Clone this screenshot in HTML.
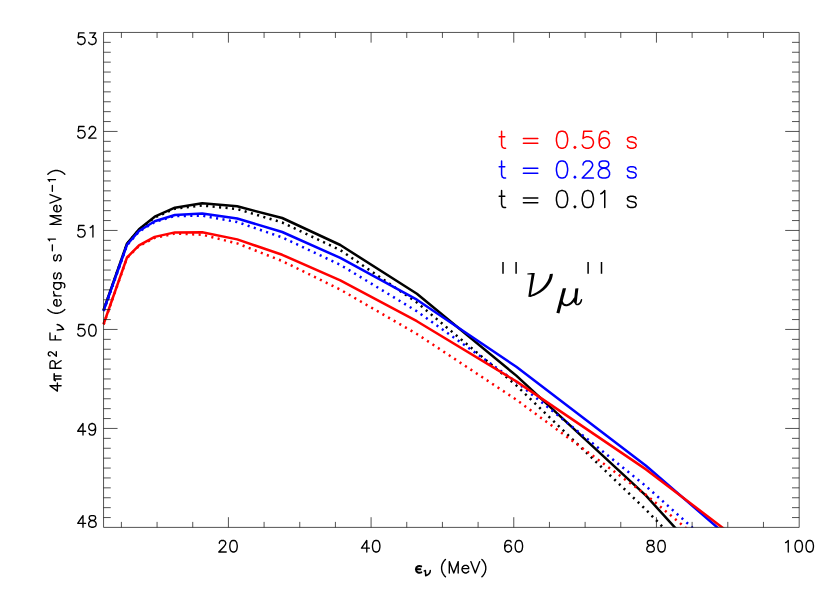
<!DOCTYPE html>
<html><head><meta charset="utf-8"><title>plot</title>
<style>html,body{margin:0;padding:0;background:#fff}svg{display:block}text{font-family:"Liberation Sans",sans-serif}.h{fill:none;stroke-linecap:round;stroke-linejoin:round}</style></head><body>
<svg width="830" height="593" viewBox="0 0 830 593">
<rect width="830" height="593" fill="#fff"/>
<defs><clipPath id="c"><rect x="90" y="32.45" width="709.20" height="494.95"/></clipPath></defs>
<g clip-path="url(#c)" fill="none" stroke-width="2.5" stroke-linejoin="round">
<path d="M103.6 310.0 L127.0 243.5 L139.0 229.2 L154.7 216.7 L174.9 207.7 L202.2 203.2 L237.2 206.3 L282.2 218.0 L340.3 245.0 L416.9 293.8 L516.3 375.6 L646.0 495.7 L680.8 534.0" stroke="#000"/>
<path d="M103.6 310.5 L127.0 244.0 L139.0 229.7 L154.7 217.5 L174.9 208.7 L202.2 205.5 L237.2 209.0 L282.2 222.5 L340.3 250.1 L416.9 302.5 L516.3 385.4 L646.0 509.7 L669.0 533.6" stroke="#000" stroke-dasharray="2.1 4.4"/>
<path d="M103.6 310.7 L127.0 244.8 L139.0 231.0 L154.7 221.2 L174.9 215.0 L202.2 213.4 L237.2 218.5 L282.2 232.0 L340.3 257.9 L416.9 299.7 L516.3 366.8 L646.0 465.7 L723.3 532.6" stroke="#0000ff"/>
<path d="M103.6 311.2 L127.0 245.3 L139.0 231.6 L154.7 222.0 L174.9 216.0 L202.2 215.7 L237.2 222.0 L282.2 237.4 L340.3 264.8 L416.9 311.3 L516.3 381.9 L646.0 486.2 L698.1 532.8" stroke="#0000ff" stroke-dasharray="2.1 4.4"/>
<path d="M103.6 324.0 L127.0 257.5 L139.0 245.4 L154.7 236.9 L174.9 232.4 L202.2 232.2 L237.2 239.4 L282.2 254.8 L340.3 280.3 L416.9 321.2 L516.3 381.4 L646.0 469.4 L728.2 532.0" stroke="#ff0000"/>
<path d="M103.6 324.5 L127.0 258.0 L139.0 246.0 L154.7 237.9 L174.9 233.6 L202.2 234.7 L237.2 243.4 L282.2 261.0 L340.3 289.6 L416.9 334.0 L516.3 399.7 L646.0 494.8 L691.2 532.4" stroke="#ff0000" stroke-dasharray="2.1 4.4"/>
</g>
<path d="M103.55 32.45H799.2V527.4H103.55ZM121.40 527.4v-5.5M121.40 32.45v5.5M157.07 527.4v-5.5M157.07 32.45v5.5M192.74 527.4v-5.5M192.74 32.45v5.5M228.41 527.4v-10.2M228.41 32.45v10.2M264.08 527.4v-5.5M264.08 32.45v5.5M299.75 527.4v-5.5M299.75 32.45v5.5M335.42 527.4v-5.5M335.42 32.45v5.5M371.09 527.4v-10.2M371.09 32.45v10.2M406.76 527.4v-5.5M406.76 32.45v5.5M442.43 527.4v-5.5M442.43 32.45v5.5M478.10 527.4v-5.5M478.10 32.45v5.5M513.77 527.4v-10.2M513.77 32.45v10.2M549.44 527.4v-5.5M549.44 32.45v5.5M585.11 527.4v-5.5M585.11 32.45v5.5M620.78 527.4v-5.5M620.78 32.45v5.5M656.45 527.4v-10.2M656.45 32.45v10.2M692.12 527.4v-5.5M692.12 32.45v5.5M727.79 527.4v-5.5M727.79 32.45v5.5M763.46 527.4v-5.5M763.46 32.45v5.5M103.55 42.35h7.2M799.2 42.35h-7.2M103.55 52.25h7.2M799.2 52.25h-7.2M103.55 62.15h7.2M799.2 62.15h-7.2M103.55 72.05h7.2M799.2 72.05h-7.2M103.55 81.95h7.2M799.2 81.95h-7.2M103.55 91.85h7.2M799.2 91.85h-7.2M103.55 101.75h7.2M799.2 101.75h-7.2M103.55 111.65h7.2M799.2 111.65h-7.2M103.55 121.55h7.2M799.2 121.55h-7.2M103.55 131.45h14M799.2 131.45h-14M103.55 141.35h7.2M799.2 141.35h-7.2M103.55 151.25h7.2M799.2 151.25h-7.2M103.55 161.15h7.2M799.2 161.15h-7.2M103.55 171.05h7.2M799.2 171.05h-7.2M103.55 180.95h7.2M799.2 180.95h-7.2M103.55 190.85h7.2M799.2 190.85h-7.2M103.55 200.75h7.2M799.2 200.75h-7.2M103.55 210.65h7.2M799.2 210.65h-7.2M103.55 220.55h7.2M799.2 220.55h-7.2M103.55 230.45h14M799.2 230.45h-14M103.55 240.35h7.2M799.2 240.35h-7.2M103.55 250.25h7.2M799.2 250.25h-7.2M103.55 260.15h7.2M799.2 260.15h-7.2M103.55 270.05h7.2M799.2 270.05h-7.2M103.55 279.95h7.2M799.2 279.95h-7.2M103.55 289.85h7.2M799.2 289.85h-7.2M103.55 299.75h7.2M799.2 299.75h-7.2M103.55 309.65h7.2M799.2 309.65h-7.2M103.55 319.55h7.2M799.2 319.55h-7.2M103.55 329.45h14M799.2 329.45h-14M103.55 339.35h7.2M799.2 339.35h-7.2M103.55 349.25h7.2M799.2 349.25h-7.2M103.55 359.15h7.2M799.2 359.15h-7.2M103.55 369.05h7.2M799.2 369.05h-7.2M103.55 378.95h7.2M799.2 378.95h-7.2M103.55 388.85h7.2M799.2 388.85h-7.2M103.55 398.75h7.2M799.2 398.75h-7.2M103.55 408.65h7.2M799.2 408.65h-7.2M103.55 418.55h7.2M799.2 418.55h-7.2M103.55 428.45h14M799.2 428.45h-14M103.55 438.35h7.2M799.2 438.35h-7.2M103.55 448.25h7.2M799.2 448.25h-7.2M103.55 458.15h7.2M799.2 458.15h-7.2M103.55 468.05h7.2M799.2 468.05h-7.2M103.55 477.95h7.2M799.2 477.95h-7.2M103.55 487.85h7.2M799.2 487.85h-7.2M103.55 497.75h7.2M799.2 497.75h-7.2M103.55 507.65h7.2M799.2 507.65h-7.2M103.55 517.55h7.2M799.2 517.55h-7.2" fill="none" stroke="#111" stroke-width="0.72"/>
<path class="h" d="M77.69 42.25L78.22 43.35L78.75 43.90L80.34 44.45L81.93 44.45L83.52 43.90L84.58 42.80L85.11 41.15L85.11 40.05L84.58 38.40L83.52 37.30L81.93 36.75L80.34 36.75L78.75 37.30L78.22 37.85L78.75 32.90L84.05 32.90M88.69 42.25L89.22 43.35L89.75 43.90L91.34 44.45L92.93 44.45L94.52 43.90L95.58 42.80L96.11 41.15L96.11 40.05L95.58 38.40L95.05 37.85L93.99 37.30L92.40 37.30L95.58 32.90L89.75 32.90M77.69 135.85L78.22 136.95L78.75 137.50L80.34 138.05L81.93 138.05L83.52 137.50L84.58 136.40L85.11 134.75L85.11 133.65L84.58 132.00L83.52 130.90L81.93 130.35L80.34 130.35L78.75 130.90L78.22 131.45L78.75 126.50L84.05 126.50M89.22 129.25L89.22 128.70L89.75 127.60L90.28 127.05L91.34 126.50L93.46 126.50L94.52 127.05L95.05 127.60L95.58 128.70L95.58 129.80L95.05 130.90L93.99 132.55L88.69 138.05L96.11 138.05M77.69 234.85L78.22 235.95L78.75 236.50L80.34 237.05L81.93 237.05L83.52 236.50L84.58 235.40L85.11 233.75L85.11 232.65L84.58 231.00L83.52 229.90L81.93 229.35L80.34 229.35L78.75 229.90L78.22 230.45L78.75 225.50L84.05 225.50M90.28 227.70L91.34 227.15L92.93 225.50L92.93 237.05M77.69 333.85L78.22 334.95L78.75 335.50L80.34 336.05L81.93 336.05L83.52 335.50L84.58 334.40L85.11 332.75L85.11 331.65L84.58 330.00L83.52 328.90L81.93 328.35L80.34 328.35L78.75 328.90L78.22 329.45L78.75 324.50L84.05 324.50M88.69 331.10L88.69 329.45L89.22 326.70L90.28 325.05L91.87 324.50L92.93 324.50L94.52 325.05L95.58 326.70L96.11 329.45L96.11 331.10L95.58 333.85L94.52 335.50L92.93 336.05L91.87 336.05L90.28 335.50L89.22 333.85L88.69 331.10M82.99 435.05L82.99 431.20L77.69 431.20L82.99 423.50L82.99 431.20L85.64 431.20M89.22 433.40L89.75 434.50L91.34 435.05L92.40 435.05L93.99 434.50L95.05 432.85L95.58 430.10L95.58 427.35L95.05 429.00L93.99 430.10L92.40 430.65L91.87 430.65L90.28 430.10L89.22 429.00L88.69 427.35L88.69 426.80L89.22 425.15L90.28 424.05L91.87 423.50L92.40 423.50L93.99 424.05L95.05 425.15L95.58 427.35M82.99 527.20L82.99 523.35L77.69 523.35L82.99 515.65L82.99 523.35L85.64 523.35M88.69 525.00L88.69 523.35L89.22 522.25L90.28 521.15L91.87 520.60L93.99 520.05L95.05 519.50L95.58 518.40L95.58 517.30L95.05 516.20L93.46 515.65L91.34 515.65L89.75 516.20L89.22 517.30L89.22 518.40L89.75 519.50L90.81 520.05L92.93 520.60L94.52 521.15L95.58 522.25L96.11 523.35L96.11 525.00L95.58 526.10L95.05 526.65L93.46 527.20L91.34 527.20L89.75 526.65L89.22 526.10L88.69 525.00M219.33 543.20L219.33 542.65L219.86 541.55L220.39 541.00L221.45 540.45L223.57 540.45L224.63 541.00L225.16 541.55L225.69 542.65L225.69 543.75L225.16 544.85L224.10 546.50L218.80 552.00L226.22 552.00M229.80 547.05L229.80 545.40L230.33 542.65L231.39 541.00L232.98 540.45L234.04 540.45L235.63 541.00L236.69 542.65L237.22 545.40L237.22 547.05L236.69 549.80L235.63 551.45L234.04 552.00L232.98 552.00L231.39 551.45L230.33 549.80L229.80 547.05M366.78 552.00L366.78 548.15L361.48 548.15L366.78 540.45L366.78 548.15L369.43 548.15M372.48 547.05L372.48 545.40L373.01 542.65L374.07 541.00L375.66 540.45L376.72 540.45L378.31 541.00L379.37 542.65L379.90 545.40L379.90 547.05L379.37 549.80L378.31 551.45L376.72 552.00L375.66 552.00L374.07 551.45L373.01 549.80L372.48 547.05M504.69 548.15L504.69 545.40L505.22 542.65L506.28 541.00L507.87 540.45L508.93 540.45L510.52 541.00L511.05 542.10M504.69 548.15L505.22 550.35L506.28 551.45L507.87 552.00L508.40 552.00L509.99 551.45L511.05 550.35L511.58 548.70L511.58 548.15L511.05 546.50L509.99 545.40L508.40 544.85L507.87 544.85L506.28 545.40L505.22 546.50L504.69 548.15M515.16 547.05L515.16 545.40L515.69 542.65L516.75 541.00L518.34 540.45L519.40 540.45L520.99 541.00L522.05 542.65L522.58 545.40L522.58 547.05L522.05 549.80L520.99 551.45L519.40 552.00L518.34 552.00L516.75 551.45L515.69 549.80L515.16 547.05M646.84 549.80L646.84 548.15L647.37 547.05L648.43 545.95L650.02 545.40L652.14 544.85L653.20 544.30L653.73 543.20L653.73 542.10L653.20 541.00L651.61 540.45L649.49 540.45L647.90 541.00L647.37 542.10L647.37 543.20L647.90 544.30L648.96 544.85L651.08 545.40L652.67 545.95L653.73 547.05L654.26 548.15L654.26 549.80L653.73 550.90L653.20 551.45L651.61 552.00L649.49 552.00L647.90 551.45L647.37 550.90L646.84 549.80M657.84 547.05L657.84 545.40L658.37 542.65L659.43 541.00L661.02 540.45L662.08 540.45L663.67 541.00L664.73 542.65L665.26 545.40L665.26 547.05L664.73 549.80L663.67 551.45L662.08 552.00L661.02 552.00L659.43 551.45L658.37 549.80L657.84 547.05M785.61 542.65L786.67 542.10L788.26 540.45L788.26 552.00M795.02 547.05L795.02 545.40L795.55 542.65L796.61 541.00L798.20 540.45L799.26 540.45L800.85 541.00L801.91 542.65L802.44 545.40L802.44 547.05L801.91 549.80L800.85 551.45L799.26 552.00L798.20 552.00L796.61 551.45L795.55 549.80L795.02 547.05M806.02 547.05L806.02 545.40L806.55 542.65L807.61 541.00L809.20 540.45L810.26 540.45L811.85 541.00L812.91 542.65L813.44 545.40L813.44 547.05L812.91 549.80L811.85 551.45L810.26 552.00L809.20 552.00L807.61 551.45L806.55 549.80L806.02 547.05" stroke="#000" stroke-width="1.35"/>
<path class="h" d="M499.19 136.86L501.59 136.86L501.59 144.96L502.39 147.39L503.99 148.20L505.59 148.20M501.59 131.19L501.59 136.86L504.79 136.86M523.40 143.34L537.80 143.34M523.40 138.48L537.80 138.48M556.43 140.91L556.43 138.48L557.23 134.43L558.83 132.00L561.23 131.19L562.83 131.19L565.23 132.00L566.83 134.43L567.63 138.48L567.63 140.91L566.83 144.96L565.23 147.39L562.83 148.20L561.23 148.20L558.83 147.39L557.23 144.96L556.43 140.91M574.13 147.39L574.93 148.20L575.73 147.39L574.93 146.58L574.13 147.39M582.22 144.96L583.02 146.58L583.82 147.39L586.22 148.20L588.62 148.20L591.02 147.39L592.62 145.77L593.42 143.34L593.42 141.72L592.62 139.29L591.02 137.67L588.62 136.86L586.22 136.86L583.82 137.67L583.02 138.48L583.82 131.19L591.82 131.19M599.14 142.53L599.14 138.48L599.94 134.43L601.54 132.00L603.94 131.19L605.54 131.19L607.94 132.00L608.74 133.62M599.14 142.53L599.94 145.77L601.54 147.39L603.94 148.20L604.74 148.20L607.14 147.39L608.74 145.77L609.54 143.34L609.54 142.53L608.74 140.10L607.14 138.48L604.74 137.67L603.94 137.67L601.54 138.48L599.94 140.10L599.14 142.53M627.35 145.77L628.15 147.39L630.55 148.20L632.95 148.20L635.35 147.39L636.15 145.77L636.15 144.96L635.35 143.34L633.75 142.53L629.75 141.72L628.15 140.91L627.35 139.29L628.15 137.67L630.55 136.86L632.95 136.86L635.35 137.67L636.15 139.29" stroke="#ff0000" stroke-width="1.5"/>
<path class="h" d="M499.19 166.66L501.59 166.66L501.59 174.76L502.39 177.19L503.99 178.00L505.59 178.00M501.59 160.99L501.59 166.66L504.79 166.66M523.40 173.14L537.80 173.14M523.40 168.28L537.80 168.28M556.43 170.71L556.43 168.28L557.23 164.23L558.83 161.80L561.23 160.99L562.83 160.99L565.23 161.80L566.83 164.23L567.63 168.28L567.63 170.71L566.83 174.76L565.23 177.19L562.83 178.00L561.23 178.00L558.83 177.19L557.23 174.76L556.43 170.71M574.13 177.19L574.93 178.00L575.73 177.19L574.93 176.38L574.13 177.19M583.02 165.04L583.02 164.23L583.82 162.61L584.62 161.80L586.22 160.99L589.42 160.99L591.02 161.80L591.82 162.61L592.62 164.23L592.62 165.85L591.82 167.47L590.22 169.90L582.22 178.00L593.42 178.00M598.34 174.76L598.34 172.33L599.14 170.71L600.74 169.09L603.14 168.28L606.34 167.47L607.94 166.66L608.74 165.04L608.74 163.42L607.94 161.80L605.54 160.99L602.34 160.99L599.94 161.80L599.14 163.42L599.14 165.04L599.94 166.66L601.54 167.47L604.74 168.28L607.14 169.09L608.74 170.71L609.54 172.33L609.54 174.76L608.74 176.38L607.94 177.19L605.54 178.00L602.34 178.00L599.94 177.19L599.14 176.38L598.34 174.76M627.35 175.57L628.15 177.19L630.55 178.00L632.95 178.00L635.35 177.19L636.15 175.57L636.15 174.76L635.35 173.14L633.75 172.33L629.75 171.52L628.15 170.71L627.35 169.09L628.15 167.47L630.55 166.66L632.95 166.66L635.35 167.47L636.15 169.09" stroke="#0000ff" stroke-width="1.5"/>
<path class="h" d="M499.19 196.26L501.59 196.26L501.59 204.36L502.39 206.79L503.99 207.60L505.59 207.60M501.59 190.59L501.59 196.26L504.79 196.26M523.40 202.74L537.80 202.74M523.40 197.88L537.80 197.88M556.43 200.31L556.43 197.88L557.23 193.83L558.83 191.40L561.23 190.59L562.83 190.59L565.23 191.40L566.83 193.83L567.63 197.88L567.63 200.31L566.83 204.36L565.23 206.79L562.83 207.60L561.23 207.60L558.83 206.79L557.23 204.36L556.43 200.31M574.13 206.79L574.93 207.60L575.73 206.79L574.93 205.98L574.13 206.79M582.22 200.31L582.22 197.88L583.02 193.83L584.62 191.40L587.02 190.59L588.62 190.59L591.02 191.40L592.62 193.83L593.42 197.88L593.42 200.31L592.62 204.36L591.02 206.79L588.62 207.60L587.02 207.60L584.62 206.79L583.02 204.36L582.22 200.31M600.74 193.83L602.34 193.02L604.74 190.59L604.74 207.60M627.35 205.17L628.15 206.79L630.55 207.60L632.95 207.60L635.35 206.79L636.15 205.17L636.15 204.36L635.35 202.74L633.75 201.93L629.75 201.12L628.15 200.31L627.35 198.69L628.15 197.07L630.55 196.26L632.95 196.26L635.35 197.07L636.15 198.69" stroke="#000" stroke-width="1.5"/>
<path class="h" d="M445.48 576.73L444.37 575.65L443.26 574.03L442.15 571.87L441.60 569.17L441.60 567.01L442.15 564.31L443.26 562.15L444.37 560.53L445.48 559.45M449.31 572.95L449.31 561.61L453.75 572.95L458.19 561.61L458.19 572.95M462.01 568.63L462.01 569.71L462.57 571.33L463.68 572.41L464.79 572.95L466.45 572.95L467.56 572.41L468.67 571.33M462.01 568.63L468.67 568.63L468.67 567.55L468.12 566.47L467.56 565.93L466.45 565.39L464.79 565.39L463.68 565.93L462.57 567.01L462.01 568.63M470.84 561.61L475.28 572.95L479.72 561.61M481.89 576.73L483.00 575.65L484.11 574.03L485.22 571.87L485.78 569.17L485.78 567.01L485.22 564.31L484.11 562.15L483.00 560.53L481.89 559.45" stroke="#000" stroke-width="1.4"/>
<path class="h" d="M421.2 566.4C419.5 565.5 416 565.8 415.9 569.2C416 572.9 419.5 573.1 421.3 572.4M416.5 569.2H420.4" stroke="#000" stroke-width="2"/>
<path class="h" d="M424.3 570.9L425.4 570.5L425.7 575.8C428.5 574.8 430.2 572.8 430.3 570.6" stroke="#000" stroke-width="1.5"/>
<path class="h" d="M61.10 385.73L57.39 385.73L57.39 391.13L49.97 385.73L57.39 385.73L57.39 383.03M61.10 368.29L49.97 368.29L49.97 363.43L50.50 361.81L51.03 361.27L52.09 360.73L53.15 360.73L54.21 361.27L54.74 361.81L55.27 363.43L55.27 368.29M55.27 364.51L61.10 360.73M61.10 339.87L49.97 339.87L49.97 332.84M55.27 339.87L55.27 335.55M64.81 309.46L63.75 310.55L62.16 311.62L60.04 312.70L57.39 313.25L55.27 313.25L52.62 312.70L50.50 311.62L48.91 310.55L47.85 309.46M56.86 306.14L57.92 306.14L59.51 305.61L60.57 304.52L61.10 303.44L61.10 301.82L60.57 300.75L59.51 299.67M56.86 306.14L56.86 299.67L55.80 299.67L54.74 300.20L54.21 300.75L53.68 301.82L53.68 303.44L54.21 304.52L55.27 305.61L56.86 306.14M61.10 295.81L53.68 295.81M56.86 295.81L55.27 295.27L54.21 294.19L53.68 293.11L53.68 291.49M64.28 287.63L64.81 286.55L64.81 284.93L64.28 283.85L63.75 283.31L62.16 282.77L59.51 282.77L60.57 283.85L61.10 284.93L61.10 286.55L60.57 287.63L59.51 288.71L57.92 289.25L56.86 289.25L55.27 288.71L54.21 287.63L53.68 286.55L53.68 284.93L54.21 283.85L55.27 282.77L59.51 282.77M55.27 282.77L53.68 282.77M59.51 278.90L60.57 278.36L61.10 276.74L61.10 275.12L60.57 273.50L59.51 272.96L58.98 272.96L57.92 273.50L57.39 274.58L56.86 277.28L56.33 278.36L55.27 278.90L54.21 278.36L53.68 276.74L53.68 275.12L54.21 273.50L55.27 272.96M59.51 260.91L60.57 260.37L61.10 258.75L61.10 257.13L60.57 255.51L59.51 254.97L58.98 254.97L57.92 255.51L57.39 256.59L56.86 259.29L56.33 260.37L55.27 260.91L54.21 260.37L53.68 258.75L53.68 257.13L54.21 255.51L55.27 254.97M61.10 224.42L49.97 224.42L61.10 220.10L49.97 215.78L61.10 215.78M56.86 211.89L57.92 211.89L59.51 211.35L60.57 210.27L61.10 209.19L61.10 207.57L60.57 206.49L59.51 205.41M56.86 211.89L56.86 205.41L55.80 205.41L54.74 205.95L54.21 206.49L53.68 207.57L53.68 209.19L54.21 210.27L55.27 211.35L56.86 211.89M49.97 203.16L61.10 198.84L49.97 194.52M64.81 174.28L63.75 173.20L62.16 172.12L60.04 171.04L57.39 170.50L55.27 170.50L52.62 171.04L50.50 172.12L48.91 173.20L47.85 174.28M50.22 355.86L49.84 355.86L49.08 355.53L48.70 355.20L48.32 354.54L48.32 353.22L48.70 352.56L49.08 352.23L49.84 351.90L50.60 351.90L51.36 352.23L52.50 352.89L56.30 356.19L56.30 351.57M52.35 250.80L52.35 244.86M49.55 240.71L49.20 240.05L48.15 239.06L55.50 239.06M52.35 191.32L52.35 185.38M49.55 181.23L49.20 180.57L48.15 179.58L55.50 179.58" stroke="#000" stroke-width="1.35"/>
<path class="h" d="M55.3 380.7L54.2 379.9V373.8M54.2 378.9H61M54.2 375.9H61" stroke="#000" stroke-width="1.55"/>
<path class="h" d="M57.3 330.1L63.6 329.3C61.5 326.2 59.3 324.9 57.2 324.6" stroke="#000" stroke-width="1.5"/>
<path d="M503 262v11.8M516.1 262v11.8M588.1 262v11.8M601.5 262v11.8" stroke="#000" stroke-width="1.5" fill="none"/>
<path d="M527.3 273.6L531.6 273L534.8 273L530.9 295C538 292.5 548.5 285 549.9 274L552.9 273.8C552.1 285.4 541 294.3 530.7 297L528.3 296.8L531.6 274.4L527.4 274.6Z" fill="#000"/>
<path d="M562.8 288.2L566.1 288.2L559.4 313.4L556.4 312.8Z" fill="#000"/>
<path d="M575.3 288.4L578.4 288.2L576.6 303.2L573.8 302.6Z" fill="#000"/>
<path class="h" d="M561.9 301.8C563 306.3 570 307.3 574.6 298.5" stroke="#000" stroke-width="2"/>
<path class="h" d="M575.2 302.6C576 305.7 580.3 305.3 581.5 299.8" stroke="#000" stroke-width="1.5"/>
</svg></body></html>
